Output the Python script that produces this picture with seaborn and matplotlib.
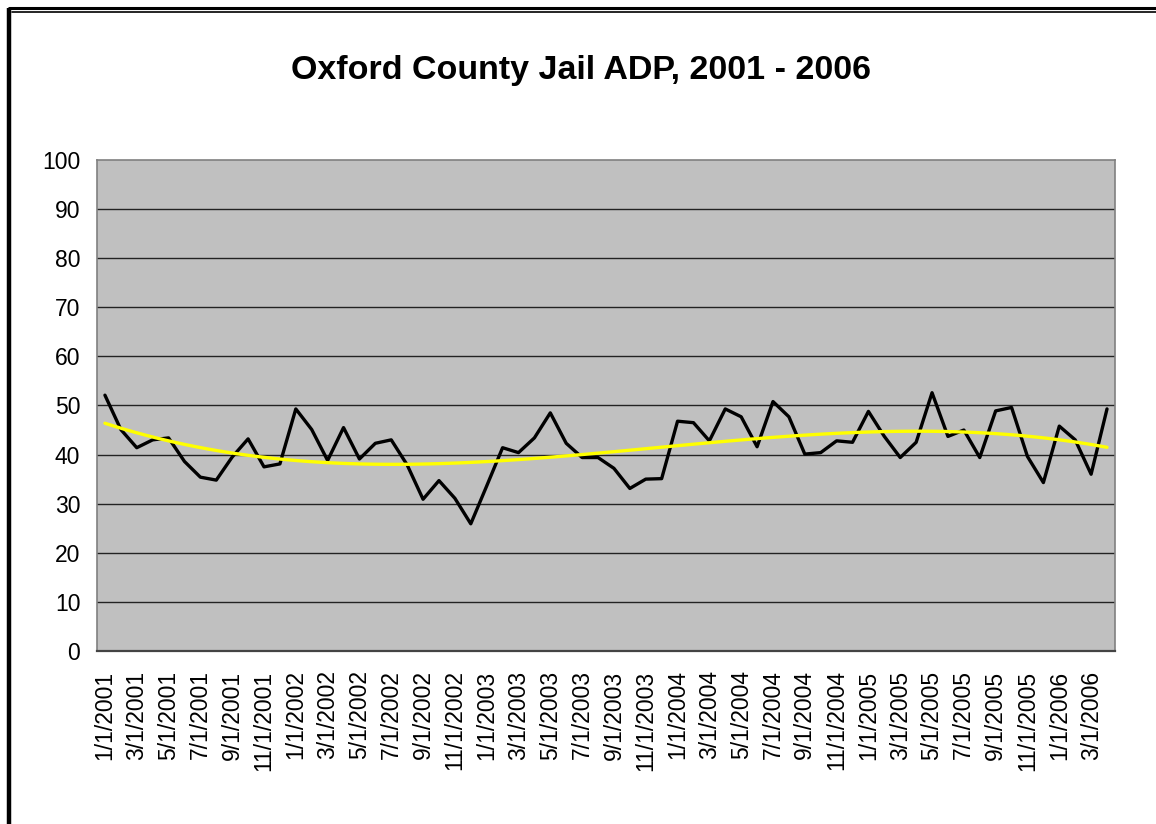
import matplotlib
matplotlib.use("Agg")
import matplotlib.pyplot as plt
from matplotlib.lines import Line2D
import numpy as np
import pandas as pd
import seaborn as sns

# monthly average daily population, Jan 2001 - Apr 2006
months = pd.date_range("2001-01-01", periods=64, freq="MS")
month_labels = [f"{d.month}/1/{d.year}" for d in months]
adp = [52.1, 45.1, 41.4, 43.0, 43.4, 38.6, 35.4, 34.8, 39.5, 43.2,
       37.5, 38.1, 49.3, 45.1, 38.8, 45.5, 39.1, 42.3, 43.0, 37.9,
       30.9, 34.7, 31.1, 25.9, 33.6, 41.4, 40.4, 43.4, 48.5, 42.3,
       39.4, 39.4, 37.2, 33.1, 35.0, 35.1, 46.8, 46.5, 42.8, 49.3,
       47.7, 41.6, 50.8, 47.7, 40.1, 40.4, 42.8, 42.5, 48.8, 43.7,
       39.4, 42.5, 52.6, 43.7, 45.0, 39.4, 48.9, 49.6, 39.6, 34.3,
       45.8, 43.0, 36.0, 49.3]
y_ticks = list(range(0, 101, 10))

df = pd.DataFrame({"pos": np.arange(len(adp)), "adp": adp})

sns.set_style("white")
plt.rcParams["font.family"] = ["Liberation Sans", "DejaVu Sans"]
plt.rcParams["text.color"] = "black"
plt.rcParams["xtick.color"] = "black"
plt.rcParams["ytick.color"] = "black"

fig = plt.figure(figsize=(11.56, 8.24), dpi=100)
ax = fig.add_axes([0.0839, 0.2100, 0.8806, 0.5958])
ax.set_facecolor("#C0C0C0")

for v in y_ticks[1:-1]:
    ax.axhline(v, color="#222222", lw=1.0, zorder=1)

sns.lineplot(data=df, x="pos", y="adp", color="black", lw=2.4, ax=ax, zorder=3)
# polynomial trend line fitted to the series
sns.regplot(data=df, x="pos", y="adp", order=3, scatter=False, ci=None,
            truncate=True, line_kws={"color": "#FFFF00", "lw": 2.4, "zorder": 4}, ax=ax)

ax.set_xlim(-0.5, len(adp) - 0.5)
ax.set_ylim(0, 100)
ax.set_yticks(y_ticks)
ax.set_yticklabels([str(v) for v in y_ticks], fontsize=16.5)

# tick marks at category boundaries every 2 months, labels at category centres
ax.set_xticks(np.arange(-0.5, len(adp), 2))
ax.set_xticklabels([])
ax.set_xticks(np.arange(0, len(adp), 2), minor=True)
ax.set_xticklabels(month_labels[::2], minor=True, rotation=90, fontsize=16.5)
ax.tick_params(axis="x", which="major", length=6, width=1, color="#555555", direction="out")
ax.tick_params(axis="x", which="minor", length=0, pad=14)
ax.tick_params(axis="y", length=6, width=1, color="#555555", direction="out", pad=6)
ax.set_xlabel("")
ax.set_ylabel("")

for side in ["top", "right", "left"]:
    ax.spines[side].set_visible(True)
    ax.spines[side].set_color("#808080")
    ax.spines[side].set_linewidth(1.2)
ax.spines["bottom"].set_color("#444444")
ax.spines["bottom"].set_linewidth(1.6)

fig.text(0.5026, 0.9145, "Oxford County Jail ADP, 2001 - 2006",
         ha="center", va="center", fontsize=24.5, fontweight="bold", color="black")

# double border of the chart area
fig.add_artist(Line2D([9 / 1156, 1], [1 - 8 / 824, 1 - 8 / 824], color="black", lw=2.2))
fig.add_artist(Line2D([12 / 1156, 1], [1 - 11.5 / 824, 1 - 11.5 / 824], color="black", lw=1.2))
fig.add_artist(Line2D([9 / 1156, 9 / 1156], [0, 1 - 8 / 824], color="black", lw=3.2,
                      solid_capstyle="butt"))

fig.savefig("out.png", dpi=100)
